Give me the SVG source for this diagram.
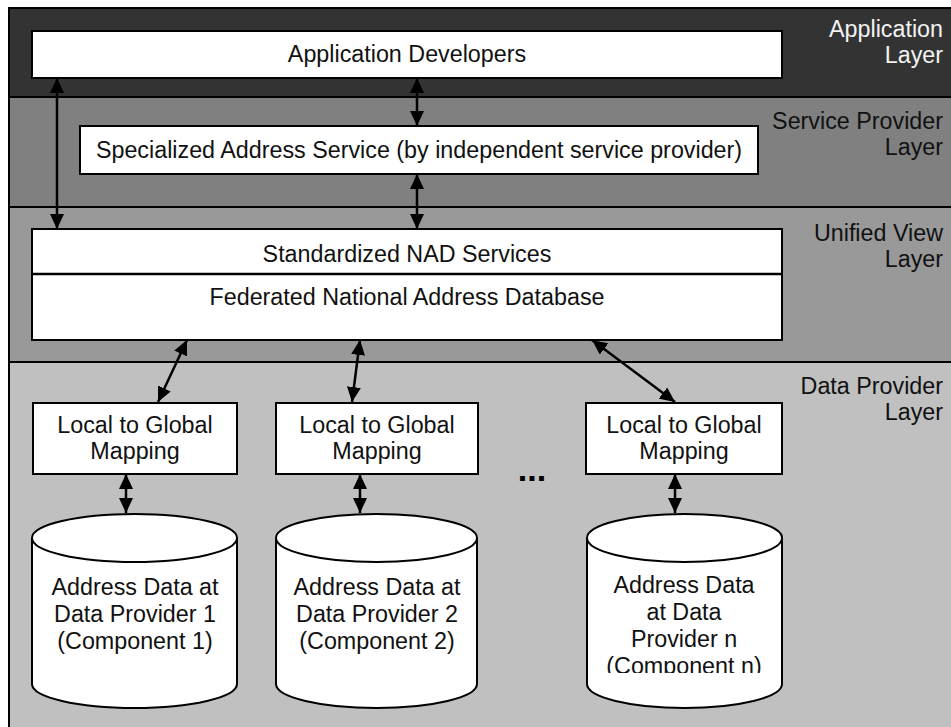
<svg xmlns="http://www.w3.org/2000/svg" width="951" height="727" viewBox="0 0 951 727">
  <style>
    .band { stroke: #000; stroke-width: 2; }
    .box { fill: #fff; stroke: #000; stroke-width: 2; }
    .lbl { font-family: "Liberation Sans", Arial, sans-serif; font-size: 23.3px; fill: #111; text-anchor: middle; }
    .layer { font-family: "Liberation Sans", Arial, sans-serif; font-size: 23.3px; fill: #111; text-anchor: end; }
    .layer.light { fill: #f2f2f2; }
    .conn { stroke: #000; stroke-width: 2.5; fill: none; marker-start: url(#head); marker-end: url(#head); }
  </style>
  <defs>
    <marker id="head" viewBox="0 0 15 14" refX="15" refY="7" markerWidth="15" markerHeight="14" markerUnits="userSpaceOnUse" orient="auto-start-reverse">
      <path d="M0,0 L15,7 L0,14 z" fill="#000"/>
    </marker>
    <clipPath id="cylClip">
      <rect x="580" y="500" width="210" height="173"/>
    </clipPath>
  </defs>

  <rect width="951" height="727" fill="#fff"/>

  <!-- layer bands -->
  <g id="layers">
    <rect class="band" x="9" y="8" width="960" height="89" fill="#333333"/>
    <rect class="band" x="9" y="97" width="960" height="110" fill="#808080"/>
    <rect class="band" x="9" y="207" width="960" height="155" fill="#999999"/>
    <rect class="band" x="9" y="362" width="960" height="380" fill="#c0c0c0"/>
  </g>

  <g id="layer-labels">
    <text class="layer light" x="943" y="37">Application</text>
    <text class="layer light" x="943" y="63">Layer</text>
    <text class="layer" x="943" y="129">Service Provider</text>
    <text class="layer" x="943" y="155">Layer</text>
    <text class="layer" x="943" y="241">Unified View</text>
    <text class="layer" x="943" y="267">Layer</text>
    <text class="layer" x="943" y="394">Data Provider</text>
    <text class="layer" x="943" y="420">Layer</text>
  </g>

  <g id="app-developers">
    <rect class="box" x="32" y="31" width="750" height="47"/>
    <text class="lbl" x="407" y="62">Application Developers</text>
  </g>

  <g id="specialized-service">
    <rect class="box" x="80" y="126" width="678" height="48"/>
    <text class="lbl" x="419" y="158">Specialized Address Service (by independent service provider)</text>
  </g>

  <g id="unified-view">
    <rect class="box" x="32" y="229" width="750" height="111"/>
    <line x1="32" y1="274" x2="782" y2="274" stroke="#000" stroke-width="2.5"/>
    <text class="lbl" x="407" y="262">Standardized NAD Services</text>
    <text class="lbl" x="407" y="305">Federated National Address Database</text>
  </g>

  <g id="mapping-1">
    <rect class="box" x="33" y="403" width="204" height="71"/>
    <text class="lbl" x="135" y="433">Local to Global</text>
    <text class="lbl" x="135" y="459">Mapping</text>
  </g>
  <g id="mapping-2">
    <rect class="box" x="276" y="403" width="202" height="71"/>
    <text class="lbl" x="377" y="433">Local to Global</text>
    <text class="lbl" x="377" y="459">Mapping</text>
  </g>
  <g id="mapping-n">
    <rect class="box" x="586" y="403" width="196" height="71"/>
    <text class="lbl" x="684" y="433">Local to Global</text>
    <text class="lbl" x="684" y="459">Mapping</text>
  </g>

  <text id="ellipsis" x="532" y="481" font-family="Liberation Sans, Arial, sans-serif" font-size="34" font-weight="bold" text-anchor="middle" fill="#000">...</text>

  <g id="data-provider-1">
    <path class="box" d="M32,538 A102.5,24 0 0 1 237,538 L237,684 A102.5,24 0 0 1 32,684 Z"/>
    <path d="M32,538 A102.5,24 0 0 0 237,538" fill="none" stroke="#000" stroke-width="2"/>
    <text class="lbl" x="135" y="595">Address Data at</text>
    <text class="lbl" x="135" y="622">Data Provider 1</text>
    <text class="lbl" x="135" y="649">(Component 1)</text>
  </g>
  <g id="data-provider-2">
    <path class="box" d="M276,538 A100.5,24 0 0 1 477,538 L477,684 A100.5,24 0 0 1 276,684 Z"/>
    <path d="M276,538 A100.5,24 0 0 0 477,538" fill="none" stroke="#000" stroke-width="2"/>
    <text class="lbl" x="377" y="595">Address Data at</text>
    <text class="lbl" x="377" y="622">Data Provider 2</text>
    <text class="lbl" x="377" y="649">(Component 2)</text>
  </g>
  <g id="data-provider-n">
    <path class="box" d="M587,538 A97.5,24 0 0 1 782,538 L782,684 A97.5,24 0 0 1 587,684 Z"/>
    <path d="M587,538 A97.5,24 0 0 0 782,538" fill="none" stroke="#000" stroke-width="2"/>
    <g clip-path="url(#cylClip)">
      <text class="lbl" x="684" y="593">Address Data</text>
      <text class="lbl" x="684" y="620">at Data</text>
      <text class="lbl" x="684" y="647">Provider n</text>
      <text class="lbl" x="684" y="674">(Component n)</text>
    </g>
  </g>

  <!-- connectors -->
  <g id="connectors">
    <line class="conn" x1="57" y1="78" x2="57" y2="229"/>
    <line class="conn" x1="417" y1="78" x2="417" y2="126"/>
    <line class="conn" x1="417" y1="174" x2="417" y2="229"/>
    <line class="conn" x1="187" y1="340" x2="158" y2="402"/>
    <line class="conn" x1="360" y1="340" x2="352" y2="402"/>
    <line class="conn" x1="592" y1="340" x2="675" y2="402"/>
    <line class="conn" x1="126" y1="474" x2="126" y2="513"/>
    <line class="conn" x1="360" y1="474" x2="360" y2="513"/>
    <line class="conn" x1="675" y1="474" x2="675" y2="513"/>
  </g>
</svg>
